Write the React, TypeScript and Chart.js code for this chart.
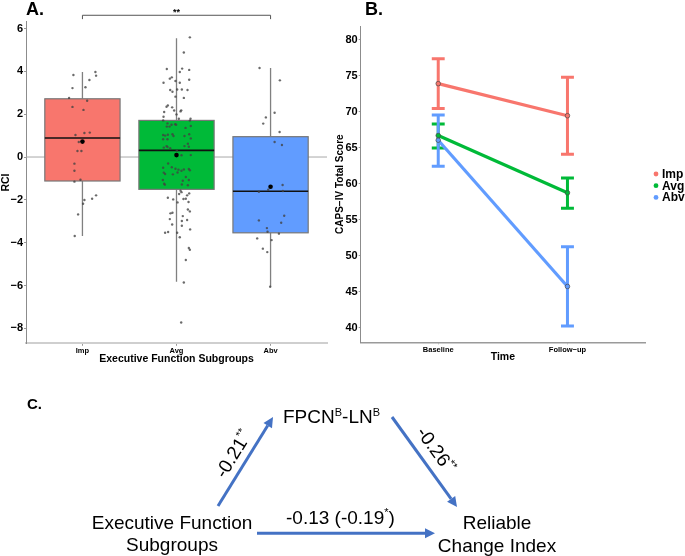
import React, { useEffect, useRef } from 'react';
import { Chart, registerables } from 'chart.js';

Chart.register(...registerables);

const FONT = '"Liberation Sans", Arial, Helvetica, sans-serif';
const MINUS = '\u2212';

// ---------- Panel A data ----------
const groups = ['Imp', 'Avg', 'Abv'];
const groupColors = ['#F8766D', '#00BA38', '#619CFF'];
const boxQ1 = [-1.12, -1.51, -3.54];
const boxMedian = [0.89, 0.31, -1.6];
const boxQ3 = [2.72, 1.71, 0.95];
const whiskerLow = [-3.69, -5.83, -6.06];
const whiskerHigh = [3.97, 5.55, 4.16];
const groupMeans = [0.72, 0.09, -1.39];
const rciTicks = [-8, -6, -4, -2, 0, 2, 4, 6];
const sigPair = [1, 3];
const sigLabel = '**';

const impJitterX = [0.904, 1.138, 1.145, 1.074, 0.894, 1.032, 0.858, 1.05, 0.894, 1.011, 0.926, 1.021, 1.078, 0.961, 0.947, 0.989, 0.915, 0.915, 0.915, 0.979, 1.145, 1.103, 1.021, 1.007, 0.954, 0.918];
const impRci = [3.83, 3.97, 3.8, 3.6, 3.22, 3.26, 2.76, 2.63, 2.34, 2.2, 1.03, 1.12, 1.14, 0.7, 0.28, 0.28, -0.31, -0.64, -1.15, -1.06, -1.79, -1.95, -2.01, -2.18, -2.68, -3.69];

const avgJitterX = [2.142, 2.078, 1.897, 2.06, 2.135, 2.035, 1.95, 1.929, 1.989, 2.135, 1.862, 2.035, 1.933, 1.957, 2.007, 2.057, 2.117, 1.989, 2.078, 1.894, 1.908, 1.954, 2.05, 2.043, 1.869, 1.975, 2.0, 1.862, 2.025, 2.149, 1.858, 2.142, 1.904, 1.947, 1.986, 1.897, 1.926, 1.996, 2.096, 2.152, 1.858, 1.879, 1.908, 1.957, 1.968, 2.085, 2.135, 1.858, 1.904, 2.152, 1.894, 1.904, 1.933, 1.865, 2.121, 2.131, 2.085, 2.004, 2.053, 2.152, 1.911, 1.858, 1.95, 1.989, 2.021, 2.053, 2.078, 2.131, 2.142, 1.865, 1.879, 1.961, 2.011, 1.855, 1.869, 1.876, 2.067, 2.099, 2.131, 2.057, 2.121, 2.043, 2.053, 2.028, 2.135, 2.113, 1.908, 1.965, 2.011, 2.074, 2.099, 2.128, 2.121, 2.142, 1.957, 1.936, 1.929, 2.067, 2.057, 2.113, 1.954, 2.057, 2.145, 1.879, 1.911, 2.007, 2.035, 2.131, 2.142, 2.099, 2.078, 2.05];
const avgRci = [5.59, 4.88, 4.11, 4.13, 4.07, 3.97, 3.72, 3.66, 3.55, 3.61, 3.47, 3.47, 3.13, 3.05, 3.15, 3.15, 3.13, 2.82, 2.76, 2.35, 2.41, 2.32, 2.18, 2.13, 2.1, 2.17, 1.99, 1.88, 1.79, 1.79, 1.71, 1.7, 1.57, 1.51, 1.53, 1.42, 1.42, 1.51, 1.36, 1.45, 1.03, 1.0, 1.04, 1.06, 0.98, 0.98, 1.06, 0.83, 0.83, 0.87, 0.51, 0.47, 0.41, 0.44, 0.62, 0.48, 0.51, 0.3, 0.08, 0.09, -0.3, -0.5, -0.48, -0.55, -0.59, -0.64, -0.58, -0.56, -0.62, -0.73, -0.79, -0.81, -0.72, -1.07, -1.25, -1.29, -1.11, -0.93, -1.07, -1.28, -1.32, -1.57, -1.64, -1.73, -1.7, -1.79, -1.9, -1.98, -2.12, -1.96, -1.95, -2.1, -2.45, -2.54, -2.6, -2.63, -2.9, -2.76, -2.99, -2.94, -3.15, -3.21, -3.38, -3.54, -3.5, -3.54, -3.75, -4.25, -4.33, -4.81, -5.86, -7.73];

const abvJitterX = [2.883, 3.099, 3.043, 2.95, 2.922, 3.096, 3.043, 3.121, 3.128, 2.975, 3.131, 2.876, 3.145, 2.876, 3.113, 2.961, 2.968, 3.089, 2.858, 3.011, 2.918, 2.965, 2.996];
const abvRci = [4.16, 3.58, 2.07, 1.85, 1.56, 1.17, 0.7, 0.56, -1.31, -1.53, -1.59, -1.62, -2.74, -2.96, -3.07, -3.32, -3.49, -3.58, -3.8, -3.88, -4.28, -4.44, -6.06];

// ---------- Panel B data ----------
const timePoints = ['Baseline', 'Follow\u2212up'];
const capsTicks = [40, 45, 50, 55, 60, 65, 70, 75, 80];
const impCaps = [73.9, 69.45];
const impCapsLo = [70.45, 64.1];
const impCapsHi = [77.35, 74.8];
const avgCaps = [66.7, 58.75];
const avgCapsLo = [64.95, 56.6];
const avgCapsHi = [68.3, 60.8];
const abvCaps = [66.05, 45.75];
const abvCapsLo = [62.45, 40.25];
const abvCapsHi = [69.55, 51.25];

// ---------- Panel C data ----------
const mediatorParts = [
  { t: 'FPCN', sup: false },
  { t: 'B', sup: true },
  { t: '-LN', sup: false },
  { t: 'B', sup: true },
];
const predictorLines = ['Executive Function', 'Subgroups'];
const outcomeLines = ['Reliable', 'Change Index'];
const pathA = [{ t: '-0.21', sup: false }, { t: '**', sup: true }];
const pathB = [{ t: '-0.26', sup: false }, { t: '**', sup: true }];
const pathC = [
  { t: '-0.13 (-0.19', sup: false },
  { t: '*', sup: true },
  { t: ')', sup: false },
];

const fmtTick = (v: number) => (v < 0 ? MINUS + Math.abs(v) : String(v));

function PanelA() {
  const ref = useRef<HTMLCanvasElement>(null);
  useEffect(() => {
    const canvas = ref.current!;
    const boxPlugin = {
      id: 'boxes',
      beforeDatasetsDraw(chart: any) {
        const { ctx, chartArea } = chart;
        const x = chart.scales.x;
        const y = chart.scales.y;
        ctx.save();
        const y0 = y.getPixelForValue(0);
        ctx.strokeStyle = '#a8a8a8';
        ctx.lineWidth = 1;
        ctx.beginPath();
        ctx.moveTo(chartArea.left, y0);
        ctx.lineTo(chartArea.right, y0);
        ctx.stroke();
        groups.forEach((_, i) => {
          const cx = x.getPixelForValue(i + 1);
          const hw = x.getPixelForValue(i + 1.4) - cx;
          const yq1 = y.getPixelForValue(boxQ1[i]);
          const yq3 = y.getPixelForValue(boxQ3[i]);
          const ymed = y.getPixelForValue(boxMedian[i]);
          ctx.strokeStyle = '#808080';
          ctx.lineWidth = 1.3;
          ctx.beginPath();
          ctx.moveTo(cx, y.getPixelForValue(whiskerHigh[i]));
          ctx.lineTo(cx, yq3);
          ctx.moveTo(cx, yq1);
          ctx.lineTo(cx, y.getPixelForValue(whiskerLow[i]));
          ctx.stroke();
          ctx.fillStyle = groupColors[i];
          ctx.fillRect(cx - hw, yq3, 2 * hw, yq1 - yq3);
          ctx.strokeStyle = '#777777';
          ctx.lineWidth = 1.2;
          ctx.strokeRect(cx - hw, yq3, 2 * hw, yq1 - yq3);
          ctx.strokeStyle = '#111111';
          ctx.lineWidth = 1.6;
          ctx.beginPath();
          ctx.moveTo(cx - hw, ymed);
          ctx.lineTo(cx + hw, ymed);
          ctx.stroke();
        });
        ctx.restore();
      },
      afterDraw(chart: any) {
        const { ctx } = chart;
        const x = chart.scales.x;
        const y = chart.scales.y;
        ctx.save();
        const x1 = x.getPixelForValue(sigPair[0]);
        const x2 = x.getPixelForValue(sigPair[1]);
        const yb = y.getPixelForValue(6.62);
        const yt = y.getPixelForValue(6.44);
        ctx.strokeStyle = '#555555';
        ctx.lineWidth = 1;
        ctx.beginPath();
        ctx.moveTo(x1, yt);
        ctx.lineTo(x1, yb);
        ctx.lineTo(x2, yb);
        ctx.lineTo(x2, yt);
        ctx.stroke();
        ctx.fillStyle = '#000';
        ctx.font = `bold 9px ${FONT}`;
        ctx.textAlign = 'center';
        ctx.textBaseline = 'alphabetic';
        ctx.fillText(sigLabel, (x1 + x2) / 2, yb - 0.5);
        ctx.font = `bold 18px ${FONT}`;
        ctx.textAlign = 'left';
        ctx.fillText('A.', 26, 15);
        ctx.restore();
      },
    };
    const chart = new Chart(canvas, {
      type: 'scatter',
      data: {
        datasets: [
          { data: impJitterX.map((v, i) => ({ x: v, y: impRci[i] })), pointRadius: 1.2, pointBackgroundColor: 'rgba(65,65,65,0.78)', pointBorderWidth: 0 },
          { data: avgJitterX.map((v, i) => ({ x: v, y: avgRci[i] })), pointRadius: 1.2, pointBackgroundColor: 'rgba(65,65,65,0.78)', pointBorderWidth: 0 },
          { data: abvJitterX.map((v, i) => ({ x: v, y: abvRci[i] })), pointRadius: 1.2, pointBackgroundColor: 'rgba(65,65,65,0.78)', pointBorderWidth: 0 },
          { data: groupMeans.map((m, i) => ({ x: i + 1, y: m })), pointRadius: 2.3, pointBackgroundColor: '#000', pointBorderWidth: 0 },
        ] as any,
      },
      options: {
        animation: false,
        responsive: false,
        maintainAspectRatio: false,
        layout: { padding: { top: 21.7, right: 13, left: 0, bottom: 0 } },
        plugins: { legend: { display: false }, tooltip: { enabled: false } },
        scales: {
          x: {
            type: 'linear',
            min: 0.4,
            max: 3.6,
            bounds: 'data',
            afterBuildTicks: (s: any) => { s.ticks = groups.map((_, i) => ({ value: i + 1 })); },
            afterFit: (s: any) => { s.height = 26.7; },
            grid: { display: true, drawOnChartArea: false, drawTicks: true, tickLength: 2.5, color: '#999', tickColor: '#999' },
            border: { display: true, color: '#cfcfcf', width: 2 },
            ticks: { color: '#000', font: { family: FONT, size: 7.5, weight: 'bold' }, padding: 1, maxRotation: 0, autoSkip: false, callback: (v: any) => groups[Math.round(v) - 1] ?? '' },
            title: { display: true, text: 'Executive Function Subgroups', color: '#000', font: { family: FONT, size: 10.5, weight: 'bold' }, padding: { top: 0, bottom: 4.5 } },
          },
          y: {
            type: 'linear',
            min: -8.7,
            max: 6.32,
            bounds: 'data',
            afterBuildTicks: (s: any) => { s.ticks = rciTicks.map((v) => ({ value: v })); },
            afterFit: (s: any) => { s.width = 26; },
            grid: { display: true, drawOnChartArea: false, drawTicks: true, tickLength: 2, color: '#999', tickColor: '#999' },
            border: { display: true, color: '#8c8c8c', width: 1 },
            ticks: { color: '#000', font: { family: FONT, size: 11, weight: 'bold' }, padding: 1, callback: (v: any) => fmtTick(v) },
            title: { display: true, text: 'RCI', color: '#000', font: { family: FONT, size: 10.5, weight: 'bold' }, padding: { top: 0, bottom: 0 } },
          },
        },
      } as any,
      plugins: [boxPlugin],
    });
    return () => chart.destroy();
  }, []);
  return <canvas ref={ref} width={340} height={370} style={{ position: 'absolute', left: 0, top: 0 }} />;
}

function PanelB() {
  const ref = useRef<HTMLCanvasElement>(null);
  useEffect(() => {
    const canvas = ref.current!;
    const series = [
      { label: 'Imp', color: '#F8766D', mean: impCaps, lo: impCapsLo, hi: impCapsHi },
      { label: 'Avg', color: '#00BA38', mean: avgCaps, lo: avgCapsLo, hi: avgCapsHi },
      { label: 'Abv', color: '#619CFF', mean: abvCaps, lo: abvCapsLo, hi: abvCapsHi },
    ];
    const errPlugin = {
      id: 'errbars',
      beforeDatasetsDraw(chart: any) {
        const { ctx } = chart;
        const x = chart.scales.x;
        const y = chart.scales.y;
        ctx.save();
        ctx.lineWidth = 3;
        ctx.lineCap = 'butt';
        series.forEach((s) => {
          ctx.strokeStyle = s.color;
          s.lo.forEach((lo, i) => {
            const px = x.getPixelForValue(i + 1);
            const cap = x.getPixelForValue(i + 1.05) - px;
            const yl = y.getPixelForValue(lo);
            const yh = y.getPixelForValue(s.hi[i]);
            ctx.beginPath();
            ctx.moveTo(px, yl);
            ctx.lineTo(px, yh);
            ctx.moveTo(px - cap, yh);
            ctx.lineTo(px + cap, yh);
            ctx.moveTo(px - cap, yl);
            ctx.lineTo(px + cap, yl);
            ctx.stroke();
          });
        });
        ctx.restore();
      },
      afterDraw(chart: any) {
        const { ctx, chartArea } = chart;
        ctx.save();
        const lx = chartArea.right + 11;
        const ly0 = 174;
        ctx.font = `bold 12px ${FONT}`;
        ctx.textBaseline = 'middle';
        ctx.textAlign = 'left';
        series.forEach((s, i) => {
          const yy = ly0 + i * 11.7;
          ctx.fillStyle = s.color;
          ctx.beginPath();
          ctx.arc(lx, yy, 2.4, 0, Math.PI * 2);
          ctx.fill();
          ctx.fillStyle = '#000';
          ctx.fillText(s.label, lx + 6, yy + 0.5);
        });
        ctx.font = `bold 18px ${FONT}`;
        ctx.textBaseline = 'alphabetic';
        ctx.fillText('B.', 35, 15);
        ctx.restore();
      },
    };
    const chart = new Chart(canvas, {
      type: 'scatter',
      data: {
        datasets: series.map((s) => ({
          label: s.label,
          data: s.mean.map((v, i) => ({ x: i + 1, y: v })),
          showLine: true,
          borderColor: s.color,
          borderWidth: 3.2,
          pointRadius: 2.3,
          pointBackgroundColor: s.color,
          pointBorderColor: 'rgba(70,70,70,0.85)',
          pointBorderWidth: 0.8,
        })) as any,
      },
      options: {
        animation: false,
        responsive: false,
        maintainAspectRatio: false,
        layout: { padding: { top: 26, right: 40, left: 0, bottom: 0 } },
        plugins: { legend: { display: false }, tooltip: { enabled: false } },
        scales: {
          x: {
            type: 'linear',
            min: 0.4,
            max: 2.6,
            bounds: 'data',
            afterBuildTicks: (s: any) => { s.ticks = timePoints.map((_, i) => ({ value: i + 1 })); },
            afterFit: (s: any) => { s.height = 27.7; },
            grid: { display: true, drawOnChartArea: false, drawTicks: true, tickLength: 2, color: '#aaa', tickColor: '#aaa' },
            border: { display: true, color: '#9a9a9a', width: 1.5 },
            ticks: { color: '#000', font: { family: FONT, size: 7.5, weight: 'bold' }, padding: 1, maxRotation: 0, autoSkip: false, callback: (v: any) => timePoints[Math.round(v) - 1] ?? '' },
            title: { display: true, text: 'Time', color: '#000', font: { family: FONT, size: 10.5, weight: 'bold' }, padding: { top: 0, bottom: 6.5 } },
          },
          y: {
            type: 'linear',
            min: 38.0,
            max: 81.9,
            bounds: 'data',
            afterBuildTicks: (s: any) => { s.ticks = capsTicks.map((v) => ({ value: v })); },
            afterFit: (s: any) => { s.width = 30.7; },
            grid: { display: true, drawOnChartArea: false, drawTicks: true, tickLength: 2, color: '#999', tickColor: '#999' },
            border: { display: true, color: '#8c8c8c', width: 1 },
            ticks: { color: '#000', font: { family: FONT, size: 11, weight: 'bold' }, padding: 1 },
            title: { display: true, text: 'CAPS\u2212IV Total Score', color: '#000', font: { family: FONT, size: 10, weight: 'bold' }, padding: { top: 4, bottom: 0 } },
          },
        },
      } as any,
      plugins: [errPlugin],
    });
    return () => chart.destroy();
  }, []);
  return <canvas ref={ref} width={355} height={370} style={{ position: 'absolute', left: 330, top: 0 }} />;
}

type Part = { t: string; sup: boolean };

function richWidth(ctx: CanvasRenderingContext2D, parts: Part[], size: number, supSize: number) {
  let w = 0;
  parts.forEach((p) => {
    ctx.font = `${p.sup ? supSize : size}px ${FONT}`;
    w += ctx.measureText(p.t).width;
  });
  return w;
}

function drawRich(ctx: CanvasRenderingContext2D, parts: Part[], x: number, baseline: number, size: number, supSize: number) {
  let cx = x;
  ctx.textAlign = 'left';
  ctx.textBaseline = 'alphabetic';
  parts.forEach((p) => {
    ctx.font = `${p.sup ? supSize : size}px ${FONT}`;
    ctx.fillText(p.t, cx, p.sup ? baseline - size * 0.4 : baseline);
    cx += ctx.measureText(p.t).width;
  });
}

function arrow(ctx: CanvasRenderingContext2D, x1: number, y1: number, x2: number, y2: number) {
  const ang = Math.atan2(y2 - y1, x2 - x1);
  const head = 10;
  const hw = 5;
  const bx = x2 - head * Math.cos(ang);
  const by = y2 - head * Math.sin(ang);
  ctx.beginPath();
  ctx.moveTo(x1, y1);
  ctx.lineTo(bx, by);
  ctx.stroke();
  ctx.beginPath();
  ctx.moveTo(x2, y2);
  ctx.lineTo(bx + hw * Math.sin(ang), by - hw * Math.cos(ang));
  ctx.lineTo(bx - hw * Math.sin(ang), by + hw * Math.cos(ang));
  ctx.closePath();
  ctx.fill();
}

function PanelC() {
  const ref = useRef<HTMLCanvasElement>(null);
  useEffect(() => {
    const canvas = ref.current!;
    const diagramPlugin = {
      id: 'diagram',
      afterDraw(chart: any) {
        const ctx: CanvasRenderingContext2D = chart.ctx;
        const size = 19;
        const sup = 11;
        ctx.save();
        ctx.fillStyle = '#000';
        ctx.font = `bold 15px ${FONT}`;
        ctx.textAlign = 'left';
        ctx.textBaseline = 'alphabetic';
        ctx.fillText('C.', 27, 38.5);

        drawRich(ctx, mediatorParts, 283, 53.3, size, sup);
        ctx.font = `${size}px ${FONT}`;
        ctx.textAlign = 'center';
        ctx.fillText(predictorLines[0], 172, 158.5);
        ctx.fillText(predictorLines[1], 172, 181.3);
        ctx.fillText(outcomeLines[0], 497, 159.3);
        ctx.fillText(outcomeLines[1], 497, 181.5);

        ctx.strokeStyle = '#4472C4';
        ctx.fillStyle = '#4472C4';
        ctx.lineWidth = 3;
        const arrows = [
          [218, 136, 273, 47],
          [392, 47, 457, 137],
          [257, 163.3, 435, 163.3],
        ];
        arrows.forEach((a) => arrow(ctx, a[0], a[1], a[2], a[3]));

        ctx.fillStyle = '#000';
        drawRich(ctx, pathC, 286, 154, size, sup);
        const rotated = [
          { parts: pathA, a: arrows[0], off: 15, along: 0 },
          { parts: pathB, a: arrows[1], off: 17, along: -3 },
        ];
        rotated.forEach((r) => {
          const [x1, y1, x2, y2] = r.a;
          const ang = Math.atan2(y2 - y1, x2 - x1);
          const mx = (x1 + x2) / 2 + Math.sin(ang) * r.off + Math.cos(ang) * r.along;
          const my = (y1 + y2) / 2 - Math.cos(ang) * r.off + Math.sin(ang) * r.along;
          const w = richWidth(ctx, r.parts, size, sup);
          ctx.save();
          ctx.translate(mx, my);
          ctx.rotate(ang);
          drawRich(ctx, r.parts, -w / 2, size * 0.36, size, sup);
          ctx.restore();
        });
        ctx.restore();
      },
    };
    const chart = new Chart(canvas, {
      type: 'scatter',
      data: { datasets: [] },
      options: {
        animation: false,
        responsive: false,
        maintainAspectRatio: false,
        plugins: { legend: { display: false }, tooltip: { enabled: false } },
        scales: { x: { display: false }, y: { display: false } },
      } as any,
      plugins: [diagramPlugin],
    });
    return () => chart.destroy();
  }, []);
  return <canvas ref={ref} width={685} height={186} style={{ position: 'absolute', left: 0, top: 370 }} />;
}

export default function App() {
  return (
    <div style={{ position: 'absolute', left: 0, top: 0, width: 685, height: 556, background: '#fff' }}>
      <PanelC />
      <PanelB />
      <PanelA />
    </div>
  );
}
